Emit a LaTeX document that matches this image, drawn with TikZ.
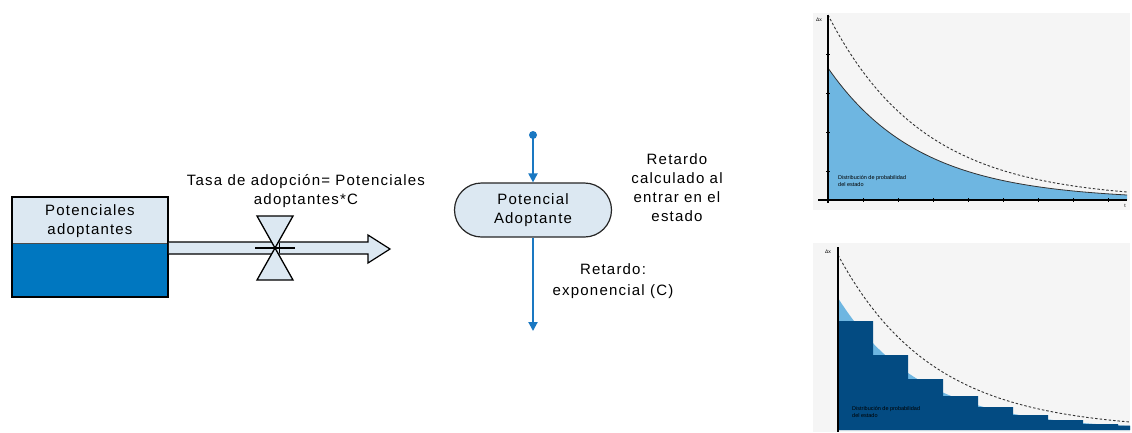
\documentclass[tikz,border=0pt]{standalone}
\usepackage{fontspec}
\setmainfont{Liberation Sans}
\newfontfamily\spacedfont[LetterSpace=8]{Liberation Sans}
\usetikzlibrary{arrows.meta,shapes.misc}
\definecolor{lightfill}{HTML}{DCE8F2}
\definecolor{stockblue}{HTML}{0077C0}
\definecolor{linkblue}{HTML}{1A78C2}
\definecolor{chartbg}{HTML}{F5F5F5}
\definecolor{curvefill}{HTML}{6EB6E1}
\definecolor{navy}{HTML}{034B82}
\tikzset{
  label13/.style={font=\spacedfont\fontsize{15}{18.5}\selectfont, align=center, inner sep=0pt},
  tinytext/.style={font=\fontsize{5.5}{6.5}\selectfont, align=left, inner sep=0pt, anchor=west},
  linkline/.style={draw=linkblue, line width=2pt},
  linktip/.style={-{Triangle[length=9pt,width=9pt]}},
  axisline/.style={draw=black, line width=1.2pt},
  dashcurve/.style={draw=black!80, line width=0.9pt, dash pattern=on 2.5pt off 2pt},
  panel/.style={fill=chartbg, draw=none}
}
\begin{document}
\begin{tikzpicture}[x=1pt,y=-1pt]
\useasboundingbox (0,0) rectangle (1132,432);
\fill[white] (0,0) rectangle (1132,432);

% ---------- stock ----------
\fill[lightfill] (12,197) rectangle (168,243);
\fill[stockblue] (12,243) rectangle (168,297);
\draw[black!70, line width=0.8pt] (12,243) -- (168,243);
\node[draw=black, line width=1.5pt, minimum width=156pt, minimum height=100pt, inner sep=0pt] (stock) at (90,247) {};
\node[label13] (stocktxt) at (90,221) {Potenciales\\adoptantes};

% ---------- flow pipe ----------
\coordinate (valve) at (275,248);
\coordinate (flowend) at (390,249);
\draw[fill=lightfill, line width=1.2pt, line join=miter]
  (stock.east |- 0,242) -- (368,242) -- (368,235) -- (flowend) -- (368,263) -- (368,254) -- (stock.east |- 0,254);
% valve
\draw[fill=lightfill, line width=1.3pt] (257,216) -- (293,216) -- (valve) -- cycle;
\draw[fill=lightfill, line width=1.3pt] (valve) -- (257,280) -- (293,280) -- cycle;
\draw[line width=1.2pt] (255,248) -- (295,248);
\draw[line width=1pt] (279,243) -- (279,253);
\node[label13] (ratetxt) at (306,191) {Tasa de adopción= Potenciales\\adoptantes*C};

% ---------- delay state ----------
\coordinate (src) at (533,135);
\coordinate (sink) at (533,331);
\node[rounded rectangle, draw=black!85, line width=1.2pt, fill=lightfill,
      minimum width=157pt, minimum height=54pt, inner sep=0pt, label13] (state) at (533,210) {Potencial\\Adoptante};
\fill[linkblue] (src) circle (4pt);
\draw[linkline, linktip] (src) -- (state.north);
\draw[linkline, linktip] (state.south) -- (sink);
\node[label13, font=\spacedfont\fontsize{15}{19}\selectfont] (delay1) at (677,188) {Retardo\\calculado al\\entrar en el\\estado};
\node[label13, font=\spacedfont\fontsize{15}{21}\selectfont] (delay2) at (613,281) {Retardo:\\exponencial (C)};

% ---------- top chart ----------
\fill[panel] (813,13) rectangle (1130,210);
\fill[curvefill] (828,200) -- plot[domain=0:299, samples=80] ({828+\x},{200-132*exp(-0.01094*\x)}) -- (1127,200) -- cycle;
\draw[black!80, line width=0.8pt] plot[domain=0:299, samples=80] ({828+\x},{200-132*exp(-0.01094*\x)});
\draw[dashcurve] plot[domain=0:299, samples=80] ({828+\x},{200-185*exp(-0.0105*\x)});
\draw[axisline] (828,15) -- (828,203);
\draw[axisline] (818,200) -- (1127,200);
\foreach \t in {863,898,933,968,1003,1038,1073,1108} \draw[line width=0.8pt] (\t,198) -- (\t,202);
\foreach \t in {54,93,132,171} \draw[line width=0.6pt] (826,\t) -- (830,\t);
\node[font=\fontsize{5}{6}\selectfont, inner sep=0pt] (ax1) at (819,20) {Δx};
\node[font=\fontsize{5}{6}\selectfont, inner sep=0pt] (t1) at (1125,206) {t};
\node[tinytext] (lab1) at (838,181) {Distribución de probabilidad\\del estado};

% ---------- bottom chart ----------
\fill[panel] (813,243) rectangle (1130,432);
\fill[curvefill] (838,430) -- plot[domain=0:292, samples=80] ({838+\x},{430-132*exp(-0.012*\x)}) -- (1130,430) -- cycle;
\fill[navy] (838,430) -- (838,321) -- (873,321) -- (873,355) -- (908,355) -- (908,379) -- (943,379)
  -- (943,396) -- (978,396) -- (978,407) -- (1013,407) -- (1013,415) -- (1048,415) -- (1048,420)
  -- (1083,420) -- (1083,424) -- (1118,424) -- (1118,425.6) -- (1130,425.6) -- (1130,430) -- cycle;
\draw[dashcurve] plot[domain=0:292, samples=80] ({838+\x},{430-175*exp(-0.01056*\x)});
\draw[axisline] (838,247) -- (838,432);
\node[font=\fontsize{5}{6}\selectfont, inner sep=0pt] (ax2) at (828,252) {Δx};
\node[tinytext] (lab2) at (852,412) {Distribución de probabilidad\\del estado};
\end{tikzpicture}
\end{document}
